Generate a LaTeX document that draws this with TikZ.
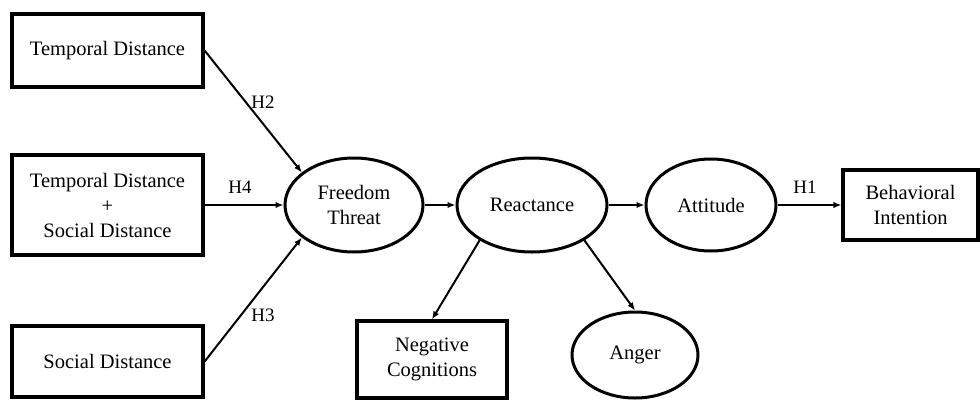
\documentclass[tikz,border=0pt]{standalone}
\usepackage{fontspec}
\setmainfont{Liberation Serif}
\usetikzlibrary{shapes.geometric,arrows.meta}
\begin{document}
\begin{tikzpicture}[x=1pt,y=-1pt,
  box/.style={draw,line width=3.2pt,inner sep=0pt,align=center,font=\fontsize{20.5}{25}\selectfont},
  oval/.style={draw,ellipse,line width=3pt,inner sep=0pt,align=center,font=\fontsize{20.5}{25}\selectfont},
  arr/.style={-{Latex[length=8pt,width=6.5pt]},line width=2pt},
  lab/.style={font=\fontsize{19}{22}\selectfont,inner sep=0pt}]
\useasboundingbox (0,0) rectangle (980,399);
\node[box,minimum width=191pt,minimum height=73pt] (td) at (107.5,50.5) {Temporal Distance};
\node[box,minimum width=191pt,minimum height=100pt] (tsd) at (107.5,205) {Temporal Distance\\+\\Social Distance};
\node[box,minimum width=191pt,minimum height=71pt] (sd) at (107.5,361.5) {Social Distance};
\node[oval,minimum width=138pt,minimum height=94pt] (ft) at (354,205) {Freedom\\Threat};
\node[oval,minimum width=150pt,minimum height=94pt] (re) at (532,205) {Reactance};
\node[oval,minimum width=130pt,minimum height=92pt] (at) at (711,205) {Attitude};
\node[box,minimum width=135pt,minimum height=70pt] (bi) at (910.5,205) {Behavioral\\Intention};
\node[box,minimum width=150pt,minimum height=77pt] (nc) at (432,359.5) {Negative\\Cognitions};
\node[oval,minimum width=126pt,minimum height=86pt] (an) at (635,355) {Anger};
\draw[arr] (td.east) -- (ft.148);
\draw[arr] (tsd.east) -- (ft.west);
\draw[arr] (sd.east) -- (ft.212);
\draw[arr] (ft.east) -- (re.west);
\draw[arr] (re.east) -- (at.west);
\draw[arr] (at.east) -- (bi.west);
\draw[arr] (re.214) -- (nc.north);
\draw[arr] (re.326) -- (an.north);
\node[lab] (h2) at (263,102) {H2};
\node[lab] (h4) at (240,187) {H4};
\node[lab] (h3) at (263,315) {H3};
\node[lab] (h1) at (805,187) {H1};
\end{tikzpicture}
\end{document}
